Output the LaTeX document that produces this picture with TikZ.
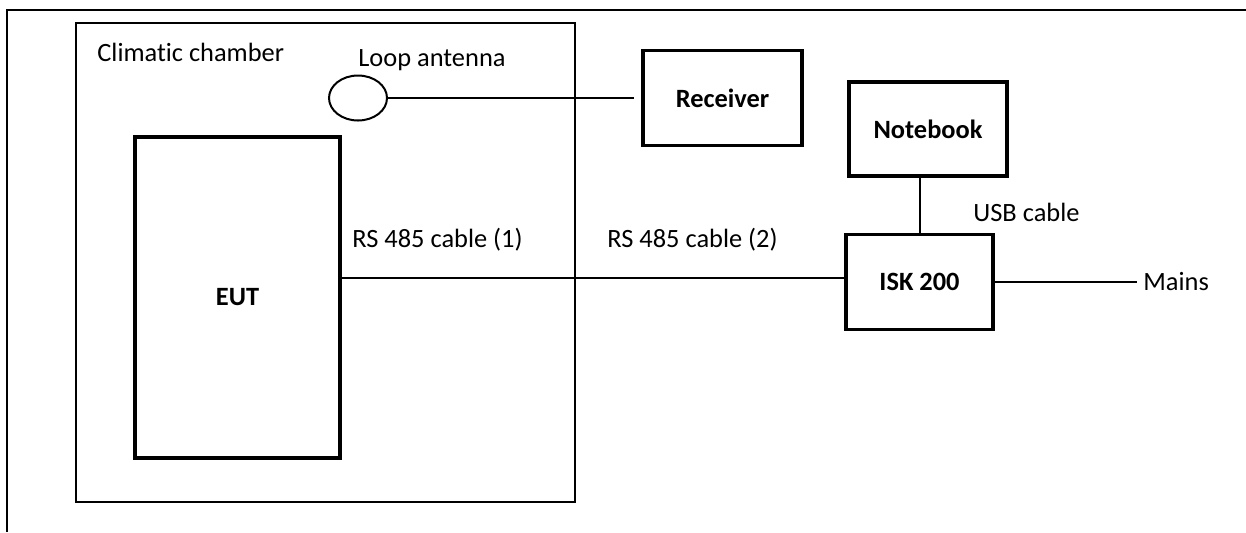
\documentclass[tikz,border=0pt]{standalone}
\usepackage{fontspec}
\setmainfont{Carlito}[Ligatures={NoCommon}]
\usepackage{tikz}
\usetikzlibrary{shapes.geometric}

\begin{document}
\begin{tikzpicture}[x=0.5pt,y=-0.5pt,font=\fontsize{13.2}{16}\selectfont]
		\tikzstyle{device}=[rectangle, draw=black, line width=1.75pt, font=\fontsize{13.2}{16}\selectfont\bfseries]
		\tikzstyle{chamber}=[rectangle, draw=black, line width=0.75pt]
		\tikzstyle{loop}=[ellipse, draw=black, line width=1pt, minimum width=29pt, minimum height=22.5pt, inner sep=0pt]
		\tikzstyle{tag}=[anchor=west, inner sep=0pt]
		\tikzstyle{cable}=[line width=1pt]

		\useasboundingbox (0,0) rectangle (1246,532);
		% frame (top and left edges only)
		\draw [line width=1pt] (1246,10) -- (7,10) -- (7,532);

		\node [chamber, minimum width=249.5pt, minimum height=239.5pt] (chamber) at (325.5,262.5) {};
		\node [tag] (chamberlabel) at (97,52) {Climatic chamber};

		\node [device, minimum width=102.5pt, minimum height=160.5pt] (eut) at (237.5,297.5) {EUT};
		\node [loop] (antenna) at (358,98) {};
		\node [tag] (antennalabel) at (358,60) {Loop antenna};
		\node [device, minimum width=79.5pt, minimum height=47.5pt] (receiver) at (722.5,98) {Receiver};
		\node [device, minimum width=79pt, minimum height=47pt] (notebook) at (928,129) {Notebook};
		\node [device, minimum width=73.5pt, minimum height=47.5pt] (isk) at (919.5,282) {ISK 200};
		\node [tag] (mains) at (1143,282) {Mains};

		\coordinate (split) at (592,278);
		\node [tag] (rs1) at (352,240) {RS 485 cable (1)};
		\node [tag] (rs2) at (607,240) {RS 485 cable (2)};
		\node [tag] (usb) at (973,212) {USB cable};

		% cables
		\draw [cable, shorten >=3.5pt] (antenna.east) -- (antenna.east -| receiver.west);
		\draw [cable] (eut.east |- split) -- (split);
		\draw [cable] (split) -- (split -| isk.west);
		\draw [cable] (notebook.south -| isk.north) -- (isk.north);
		\draw [cable, shorten >=3pt] (isk.east) -- (mains.west);
	\end{tikzpicture}
\end{document}
